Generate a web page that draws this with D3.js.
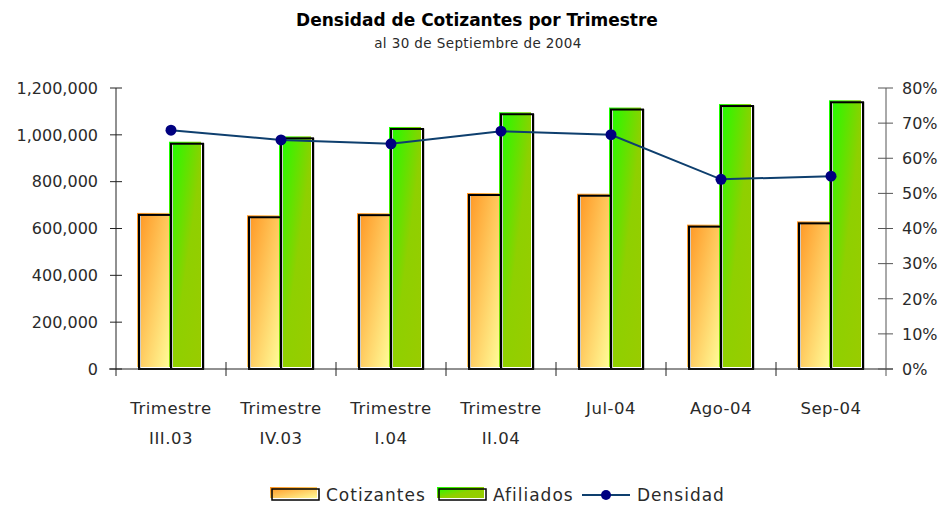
<!DOCTYPE html>
<html lang="es">
<head>
  <meta charset="UTF-8" />
  <title>Densidad de Cotizantes por Trimestre</title>
  <script src="https://cdn.jsdelivr.net/npm/d3@7"></script>
  <style>
    body, html { margin:0; padding:0; background:#fff; }
    svg text { font-family: "DejaVu Sans", sans-serif; fill:#2a2a2a; }
    .title { font-weight:bold; font-size:17px; fill:#000; }
    .sub { font-size:13.5px; letter-spacing:0.4px; }
    .tick-lbl { font-size:16px; }
    .cat-lbl { font-size:16.5px; letter-spacing:0.5px; }
    .leg-lbl { font-size:17px; letter-spacing:1px; }
  </style>
</head>
<body>
  <svg id="chart" width="945" height="506"></svg>
  <script>
    const categories = [['Trimestre','III.03'], ['Trimestre','IV.03'], ['Trimestre','I.04'],
                        ['Trimestre','II.04'], ['Jul-04'], ['Ago-04'], ['Sep-04']];
    const cotizantes = [658000, 648000, 657000, 743000, 740000, 608000, 622000];
    const afiliados  = [962000, 985000, 1025000, 1088000, 1108000, 1123000, 1139000];
    const densidad   = [0.680, 0.652, 0.641, 0.677, 0.667, 0.540, 0.549];
    const leftTicks  = [0, 200000, 400000, 600000, 800000, 1000000, 1200000];
    const rightTicks = [0, .1, .2, .3, .4, .5, .6, .7, .8];

    const svg = d3.select('#chart');
    const pL = 116, pR = 886, pT = 88, pB = 369;

    const x = d3.scaleBand().domain(d3.range(categories.length)).range([pL, pR]);
    const xIn = d3.scaleBand().domain([0, 1]).range([0, 64]);
    const y = d3.scaleLinear().domain([0, 1200000]).range([pB, pT]);
    const y2 = d3.scaleLinear().domain([0, 0.8]).range([pB, pT]);

    // gradients
    const defs = svg.append('defs');
    const g1 = defs.append('linearGradient').attr('id', 'gOr')
      .attr('x1', 0).attr('y1', 0).attr('x2', 1).attr('y2', 1);
    g1.append('stop').attr('offset', '0%').attr('stop-color', '#ff9420');
    g1.append('stop').attr('offset', '100%').attr('stop-color', '#fffb98');
    const g2 = defs.append('linearGradient').attr('id', 'gGr')
      .attr('x1', 0).attr('y1', 0).attr('x2', 1).attr('y2', 1);
    g2.append('stop').attr('offset', '0%').attr('stop-color', '#1aff00');
    g2.append('stop').attr('offset', '55%').attr('stop-color', '#8fd000');
    g2.append('stop').attr('offset', '100%').attr('stop-color', '#99cc00');

    // title
    svg.append('text').attr('class', 'title').attr('x', 477).attr('y', 26)
      .attr('text-anchor', 'middle').text('Densidad de Cotizantes por Trimestre');
    svg.append('text').attr('class', 'sub').attr('x', 478).attr('y', 48)
      .attr('text-anchor', 'middle').text('al 30 de Septiembre de 2004');

    // bars: gradient fill shifted up-left, black outline on top
    const series = [{ vals: cotizantes, fill: 'url(#gOr)' }, { vals: afiliados, fill: 'url(#gGr)' }];
    series.forEach((s, si) => {
      const gs = svg.append('g');
      s.vals.forEach((v, i) => {
        const bx = x(i) + (x.bandwidth() - 64) / 2 + xIn(si);
        const by = y(v);
        gs.append('rect').attr('x', bx - 2).attr('y', by - 2)
          .attr('width', xIn.bandwidth()).attr('height', pB - by)
          .attr('fill', s.fill);
      });
    });
    series.forEach((s, si) => {
      s.vals.forEach((v, i) => {
        const bx = x(i) + (x.bandwidth() - 64) / 2 + xIn(si);
        const by = y(v);
        svg.append('rect').attr('x', bx + 1.5).attr('y', by)
          .attr('width', xIn.bandwidth()).attr('height', pB - by)
          .attr('fill', 'none').attr('stroke', '#ccc').attr('stroke-width', 1);
        svg.append('rect').attr('x', bx).attr('y', by)
          .attr('width', xIn.bandwidth()).attr('height', pB - by)
          .attr('fill', 'none').attr('stroke', '#000').attr('stroke-width', 2);
      });
    });

    // axes
    const ax = svg.append('g').attr('stroke', '#222').attr('stroke-width', 1);
    ax.append('line').attr('x1', pL - 7).attr('x2', pR + 7).attr('y1', pB).attr('y2', pB);
    ax.append('line').attr('x1', pL).attr('x2', pL).attr('y1', pT).attr('y2', pB + 7);
    ax.append('line').attr('x1', pR).attr('x2', pR).attr('y1', pT).attr('y2', pB + 7)
      .attr('stroke', '#555');
    leftTicks.forEach(t => {
      ax.append('line').attr('x1', pL - 6).attr('x2', pL + 6).attr('y1', y(t)).attr('y2', y(t));
      svg.append('text').attr('class', 'tick-lbl').attr('x', pL - 18).attr('y', y(t))
        .attr('dy', '0.36em').attr('text-anchor', 'end').text(d3.format(',')(t));
    });
    rightTicks.forEach(t => {
      ax.append('line').attr('x1', pR - 8).attr('x2', pR + 7).attr('y1', y2(t)).attr('y2', y2(t))
        .attr('stroke', '#555');
      svg.append('text').attr('class', 'tick-lbl').attr('x', pR + 16).attr('y', y2(t))
        .attr('dy', '0.36em').text(d3.format('.0%')(t));
    });
    d3.range(1, categories.length).forEach(i => {
      ax.append('line').attr('x1', x(i)).attr('x2', x(i)).attr('y1', pB - 7).attr('y2', pB + 7);
    });
    categories.forEach((c, i) => {
      const t = svg.append('text').attr('class', 'cat-lbl')
        .attr('x', x(i) + x.bandwidth() / 2).attr('y', 414).attr('text-anchor', 'middle');
      c.forEach((ln, k) => t.append('tspan').attr('x', x(i) + x.bandwidth() / 2)
        .attr('dy', k ? 30 : 0).text(ln));
    });

    // density line
    const cx = i => x(i) + x.bandwidth() / 2;
    svg.append('path').datum(densidad)
      .attr('d', d3.line().x((d, i) => cx(i)).y(d => y2(d)))
      .attr('fill', 'none').attr('stroke', '#0e3f6e').attr('stroke-width', 2);
    svg.selectAll('.dot').data(densidad).join('circle')
      .attr('cx', (d, i) => cx(i)).attr('cy', d => y2(d)).attr('r', 5.5).attr('fill', '#000080');

    // legend
    const lg = svg.append('g');
    [{ x: 271, fill: 'url(#gOr)', label: 'Cotizantes' }, { x: 438, fill: 'url(#gGr)', label: 'Afiliados' }]
      .forEach(l => {
        lg.append('rect').attr('x', l.x - 1).attr('y', 487).attr('width', 47).attr('height', 11).attr('fill', l.fill);
        lg.append('rect').attr('x', l.x + 1).attr('y', 489).attr('width', 47).attr('height', 11)
          .attr('fill', 'none').attr('stroke', '#000').attr('stroke-width', 1.5);
        lg.append('text').attr('class', 'leg-lbl').attr('x', l.x + 55).attr('y', 501).text(l.label);
      });
    lg.append('line').attr('x1', 582).attr('x2', 630).attr('y1', 495).attr('y2', 495)
      .attr('stroke', '#0e3f6e').attr('stroke-width', 2);
    lg.append('circle').attr('cx', 606).attr('cy', 495).attr('r', 5).attr('fill', '#000080');
    lg.append('text').attr('class', 'leg-lbl').attr('x', 637).attr('y', 501).text('Densidad');
  </script>
</body>
</html>
